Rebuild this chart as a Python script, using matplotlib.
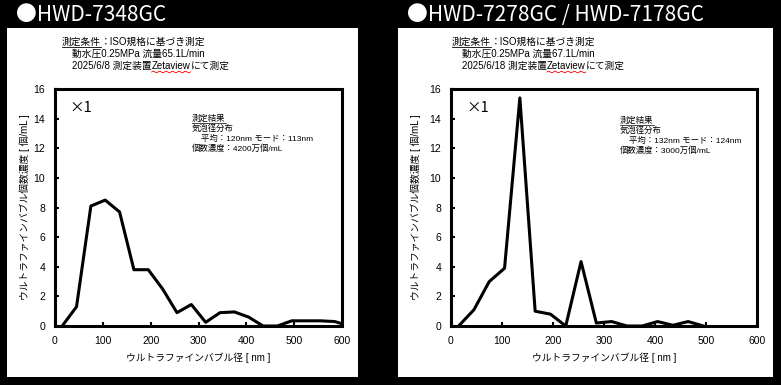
import matplotlib
matplotlib.use("Agg")
import matplotlib.pyplot as plt
from matplotlib.patches import Rectangle
from matplotlib.lines import Line2D
import numpy as np

plt.rcParams['font.family'] = ['Liberation Sans', 'Noto Sans CJK JP', 'DejaVu Sans']

# データ（ビン中心 nm / 個数濃度）
size_a = [15, 45, 75, 105, 135, 165, 195, 225, 255, 285, 315, 345, 375, 405, 435, 465, 495, 525, 555, 585, 615]
conc_a = [0.0, 1.3, 8.1, 8.5, 7.7, 3.8, 3.8, 2.5, 0.9, 1.45, 0.25, 0.9, 0.95, 0.6, 0.0, 0.0, 0.35, 0.35, 0.35, 0.3, 0.0]

size_b = [15, 45, 75, 105, 135, 165, 195, 225, 255, 285, 315, 345, 375, 405, 435, 465, 495]
conc_b = [0.0, 1.1, 3.0, 3.9, 15.4, 1.0, 0.8, 0.0, 4.35, 0.2, 0.3, 0.0, 0.0, 0.3, 0.05, 0.3, 0.0]

titles = ["●HWD-7348GC", "●HWD-7278GC / HWD-7178GC"]
flow = ["65.1", "67.1"]
dates = ["2025/6/8", "2025/6/18"]
means = ["120", "132"]
modes = ["113", "124"]
counts = ["4200", "3000"]

xticks = [0, 100, 200, 300, 400, 500, 600]
yticks = [0, 2, 4, 6, 8, 10, 12, 14, 16]

W, H = 781, 385
fig = plt.figure(figsize=(W / 100, H / 100), dpi=100, facecolor='black')


def fx(px):
    return px / W


def fy(py):
    return 1 - py / H


panels = [(7, 358), (398, 773)]
axes_px = [(55, 342), (451, 757)]
ann_x = [62, 452]
res_x = [192, 620]
res_y = [119, 121]
series = [(size_a, conc_a), (size_b, conc_b)]

# 白いパネル
for (x0, x1) in panels:
    fig.patches.append(Rectangle((fx(x0), fy(377)), fx(x1 - x0), (377 - 28) / H,
                                 transform=fig.transFigure, facecolor='white',
                                 edgecolor='none', zorder=-5))

fig.canvas.draw()
renderer = fig.canvas.get_renderer()


def underline(t, color='black', lw=0.6):
    bb = t.get_window_extent(renderer)
    fig.add_artist(Line2D([bb.x0 / W, bb.x1 / W], [(bb.y0 + 0.5) / H] * 2,
                          transform=fig.transFigure, color=color, lw=lw))
    return bb


for i in range(2):
    # タイトル
    fig.text(fx(panels[i][0] + 9), fy(15), titles[i], color='white', fontsize=15,
             ha='left', va='center', family=['Noto Sans CJK JP', 'DejaVu Sans'])

    # 測定条件
    t = fig.text(fx(ann_x[i]), fy(42), "測定条件", fontsize=7, ha='left', va='center')
    bb = underline(t)
    fig.text(bb.x1 / W, fy(42), "：ISO規格に基づき測定", fontsize=7, ha='left', va='center')
    fig.text(fx(ann_x[i] + 10), fy(54), "動水圧0.25MPa 流量" + flow[i] + "L/min",
             fontsize=7, ha='left', va='center')
    t = fig.text(fx(ann_x[i] + 10), fy(66), dates[i] + " 測定装置", fontsize=7,
                 ha='left', va='center')
    bb = t.get_window_extent(renderer)
    t = fig.text(bb.x1 / W, fy(66), "Zetaview", fontsize=7, ha='left', va='center')
    bb = t.get_window_extent(renderer)
    wx = np.linspace(bb.x0, bb.x1, 30)
    wy = bb.y0 - 1 + 0.8 * np.sin(np.linspace(0, 12 * np.pi, 30))
    fig.add_artist(Line2D(wx / W, wy / H, transform=fig.transFigure, color='red', lw=0.6))
    fig.text(bb.x1 / W, fy(66), "にて測定", fontsize=7, ha='left', va='center')

    # グラフ
    x0, x1 = axes_px[i]
    ax = fig.add_axes([fx(x0), fy(326), fx(x1 - x0), (326 - 89) / H])
    ax.set_facecolor('white')
    ax.plot(series[i][0], series[i][1], color='black', lw=2.2, clip_on=True)
    ax.set_xlim(0, 600)
    ax.set_ylim(0, 16)
    ax.set_xticks(xticks)
    ax.set_yticks(yticks)
    for s in ax.spines.values():
        s.set_linewidth(2.2)
    ax.tick_params(direction='in', length=3, width=1.5, labelsize=7.5, pad=7)
    ax.text(0.05, 0.92, "×1", transform=ax.transAxes, fontsize=10.5,
            ha='left', va='center', family=['Noto Sans CJK JP', 'DejaVu Sans'])
    ax.text(0.5, -0.135, "ウルトラファインバブル径 [ nm ]", transform=ax.transAxes,
            fontsize=7, ha='center', va='center')
    ylx = (25 - x0) / (x1 - x0) if i == 0 else (416 - x0) / (x1 - x0)
    ax.text(ylx, 0.5, "ウルトラファインバブル個数濃度 [ 個/mL ]", transform=ax.transAxes,
            fontsize=7, rotation=90, ha='center', va='center')

    # 測定結果
    ry = res_y[i]
    t = fig.text(fx(res_x[i]), fy(ry), "測定結果", fontsize=6, ha='left', va='center')
    underline(t, lw=0.5)
    fig.text(fx(res_x[i]), fy(ry + 10), "気泡径分布", fontsize=6, ha='left', va='center')
    fig.text(fx(res_x[i] + 9), fy(ry + 20),
             "平均：" + means[i] + "nm モード：" + modes[i] + "nm",
             fontsize=6, ha='left', va='center')
    fig.text(fx(res_x[i]), fy(ry + 30), "個数濃度：" + counts[i] + "万個/mL",
             fontsize=6, ha='left', va='center')

fig.savefig("out.png", dpi=100, facecolor='black')
